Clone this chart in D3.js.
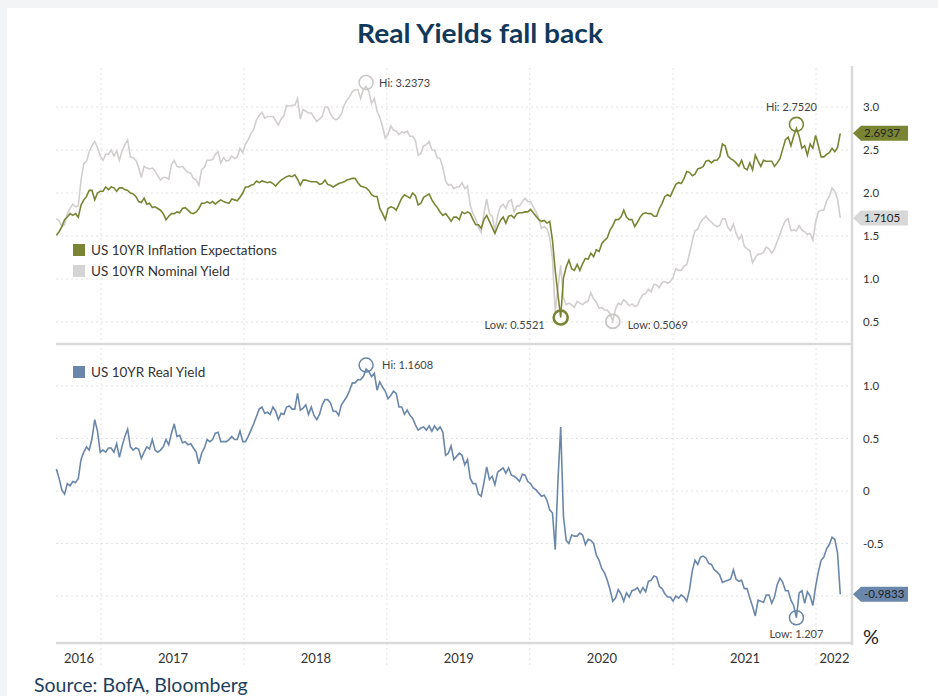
<!DOCTYPE html>
<html>
<head>
<meta charset="utf-8">
<script src="https://cdn.jsdelivr.net/npm/d3@7"></script>
<style>
  body { margin: 0; background: #f3f4f6; }
  svg { display: block; font-family: Lato, "Open Sans", sans-serif; }
</style>
</head>
<body>
<svg width="938" height="696"></svg>
<script>
// weekly observations, first one on startDate
var startDate = "2016-09-09";

var inflationExp = [
  1.51,1.55,1.61,1.69,1.72,1.76,1.74,1.76,1.72,1.86,
  1.92,1.96,2.03,2.03,1.92,2.00,2.02,2.02,2.07,2.04,
  2.07,2.06,2.02,2.06,2.06,2.04,2.03,2.00,1.99,1.96,
  1.90,1.89,1.94,1.87,1.88,1.83,1.84,1.82,1.80,1.76,
  1.69,1.73,1.76,1.76,1.78,1.77,1.82,1.83,1.80,1.77,
  1.76,1.78,1.82,1.88,1.88,1.90,1.88,1.90,1.87,1.90,
  1.92,1.90,1.89,1.88,1.93,1.92,1.91,1.95,2.00,2.07,
  2.07,2.09,2.10,2.14,2.12,2.14,2.13,2.12,2.13,2.11,
  2.08,2.12,2.15,2.17,2.19,2.20,2.19,2.21,2.16,2.09,
  2.15,2.15,2.14,2.13,2.13,2.13,2.10,2.11,2.15,2.10,
  2.09,2.07,2.09,2.11,2.12,2.13,2.15,2.16,2.17,2.17,
  2.12,2.08,2.07,2.06,2.03,1.98,1.96,1.96,1.82,1.76,
  1.69,1.82,1.84,1.83,1.80,1.87,1.94,1.98,1.96,1.94,
  2.00,1.97,1.86,1.88,1.95,1.97,1.99,1.92,1.87,1.83,
  1.78,1.74,1.76,1.72,1.67,1.72,1.72,1.69,1.78,1.76,
  1.78,1.76,1.69,1.63,1.63,1.59,1.69,1.74,1.67,1.60,
  1.53,1.61,1.68,1.72,1.65,1.73,1.74,1.71,1.76,1.77,
  1.77,1.78,1.78,1.81,1.77,1.73,1.69,1.67,1.68,1.65,
  1.67,1.45,1.10,0.82,0.5521,1.01,1.14,1.22,1.12,1.10,
  1.17,1.10,1.18,1.24,1.23,1.30,1.26,1.34,1.32,1.41,
  1.45,1.48,1.57,1.62,1.69,1.69,1.72,1.80,1.72,1.69,
  1.69,1.61,1.66,1.72,1.76,1.77,1.76,1.76,1.73,1.73,
  1.82,1.88,1.96,1.98,1.96,2.03,2.10,2.12,2.11,2.17,
  2.25,2.24,2.20,2.22,2.28,2.29,2.31,2.37,2.38,2.35,
  2.38,2.38,2.42,2.57,2.55,2.43,2.40,2.38,2.35,2.31,
  2.38,2.29,2.27,2.35,2.27,2.44,2.37,2.31,2.38,2.37,
  2.37,2.37,2.31,2.35,2.40,2.51,2.62,2.65,2.55,2.66,
  2.752,2.66,2.52,2.55,2.44,2.57,2.52,2.67,2.55,2.42,
  2.42,2.45,2.47,2.52,2.48,2.53,2.6937
];

var nominalYield = [
  1.70,1.68,1.61,1.63,1.76,1.82,1.87,1.84,1.85,2.15,
  2.34,2.37,2.48,2.55,2.60,2.53,2.43,2.38,2.45,2.45,
  2.50,2.43,2.49,2.38,2.49,2.56,2.62,2.42,2.41,2.38,
  2.30,2.18,2.31,2.29,2.28,2.29,2.26,2.20,2.15,2.18,
  2.18,2.16,2.33,2.38,2.31,2.30,2.31,2.27,2.24,2.23,
  2.17,2.15,2.09,2.27,2.30,2.38,2.38,2.39,2.45,2.48,
  2.35,2.41,2.37,2.38,2.43,2.40,2.42,2.52,2.47,2.57,
  2.62,2.69,2.74,2.85,2.90,2.94,2.87,2.89,2.89,2.89,
  2.84,2.79,2.86,2.90,3.02,3.01,3.02,3.02,3.10,2.86,
  2.97,2.95,2.93,2.93,2.88,2.83,2.86,2.89,3.00,3.00,
  2.92,2.87,2.85,2.87,2.92,3.02,3.08,3.12,3.18,3.20,
  3.20,3.10,3.21,3.2373,3.18,3.04,3.10,2.95,2.88,2.77,
  2.64,2.68,2.78,2.73,2.72,2.68,2.71,2.70,2.72,2.66,
  2.66,2.61,2.44,2.46,2.55,2.56,2.60,2.50,2.50,2.41,
  2.40,2.30,2.14,2.09,2.10,2.05,2.07,2.07,2.12,2.05,
  2.08,1.86,1.76,1.70,1.60,1.54,1.76,1.93,1.76,1.73,
  1.56,1.74,1.84,1.87,1.82,1.90,1.92,1.78,1.85,1.85,
  1.90,1.94,1.90,1.90,1.84,1.78,1.70,1.59,1.61,1.58,
  1.48,1.24,0.62,0.90,1.16,0.78,0.70,0.72,0.70,0.67,
  0.74,0.72,0.70,0.73,0.74,0.84,0.77,0.73,0.66,0.67,
  0.64,0.64,0.60,0.5069,0.65,0.72,0.70,0.76,0.73,0.69,
  0.71,0.68,0.69,0.77,0.82,0.83,0.88,0.85,0.94,0.93,
  0.90,0.96,0.97,0.95,0.97,1.02,1.12,1.10,1.10,1.15,
  1.17,1.30,1.44,1.56,1.58,1.66,1.70,1.73,1.69,1.66,
  1.63,1.61,1.62,1.70,1.70,1.60,1.56,1.64,1.53,1.46,
  1.51,1.38,1.35,1.33,1.19,1.25,1.29,1.29,1.31,1.37,
  1.35,1.30,1.35,1.44,1.52,1.61,1.68,1.70,1.56,1.57,
  1.56,1.62,1.57,1.55,1.52,1.53,1.45,1.66,1.78,1.80,
  1.80,1.91,1.96,2.06,2.02,1.93,1.7105
];

var realYield = [
  0.21,0.12,0.01,-0.03,0.07,0.05,0.09,0.08,0.12,0.30,
  0.37,0.42,0.39,0.50,0.68,0.57,0.37,0.39,0.37,0.41,
  0.41,0.37,0.45,0.32,0.43,0.52,0.59,0.42,0.39,0.41,
  0.40,0.31,0.37,0.42,0.40,0.49,0.39,0.37,0.39,0.42,
  0.49,0.44,0.55,0.64,0.52,0.53,0.46,0.47,0.44,0.45,
  0.41,0.37,0.26,0.36,0.41,0.49,0.47,0.49,0.55,0.56,
  0.47,0.47,0.47,0.49,0.52,0.49,0.49,0.57,0.47,0.47,
  0.52,0.58,0.64,0.71,0.78,0.80,0.74,0.75,0.73,0.80,
  0.76,0.68,0.74,0.73,0.80,0.81,0.78,0.78,0.93,0.77,
  0.79,0.82,0.73,0.80,0.72,0.68,0.73,0.82,0.87,0.87,
  0.84,0.76,0.76,0.72,0.82,0.86,0.90,0.96,1.03,1.03,
  1.06,1.06,1.09,1.1608,1.14,1.09,1.12,0.96,1.04,0.99,
  0.95,0.88,0.91,0.95,0.93,0.80,0.80,0.73,0.77,0.72,
  0.69,0.63,0.58,0.60,0.61,0.58,0.62,0.57,0.62,0.58,
  0.61,0.56,0.34,0.36,0.43,0.30,0.33,0.36,0.34,0.25,
  0.30,0.12,0.07,0.07,-0.03,-0.05,0.08,0.23,0.11,0.14,
  0.06,0.18,0.20,0.22,0.17,0.22,0.15,0.14,0.12,0.09,
  0.16,0.15,0.09,0.07,0.03,0.01,-0.02,-0.05,-0.04,-0.09,
  -0.18,-0.21,-0.56,0.10,0.61,-0.24,-0.47,-0.50,-0.42,-0.43,
  -0.43,-0.40,-0.42,-0.51,-0.46,-0.47,-0.50,-0.61,-0.66,-0.74,
  -0.78,-0.85,-0.94,-1.05,-1.02,-0.94,-0.98,-1.05,-0.97,-1.01,
  -0.95,-0.94,-0.92,-0.97,-0.92,-0.96,-0.86,-0.85,-0.81,-0.82,
  -0.91,-0.93,-0.98,-1.01,-1.01,-1.05,-1.00,-1.02,-0.99,-1.01,
  -1.05,-0.94,-0.76,-0.66,-0.70,-0.63,-0.62,-0.64,-0.69,-0.70,
  -0.75,-0.77,-0.80,-0.87,-0.86,-0.85,-0.84,-0.75,-0.84,-0.86,
  -0.85,-0.93,-0.93,-1.02,-1.10,-1.19,-1.04,-1.05,-1.06,-0.99,
  -0.99,-1.07,-1.01,-0.89,-0.83,-0.87,-0.95,-0.95,-1.04,-1.09,
  -1.207,-0.97,-0.95,-1.07,-0.96,-1.00,-1.09,-0.91,-0.77,-0.66,
  -0.63,-0.55,-0.51,-0.44,-0.46,-0.59,-0.9833
];

var yearLabels = [2016, 2017, 2018, 2019, 2020, 2021, 2022];
var topTicks = [0.5, 1.0, 1.5, 2.0, 2.5, 3.0];
var bottomTicks = [-1.0, -0.5, 0, 0.5, 1.0];

var olive = "#7a8534",
    grey = "#d3cece",
    slate = "#6a87ab",
    navy = "#12395a";

var left = 56, right = 852;
var topPanel = { top: 66, bottom: 344 },
    botPanel = { top: 344, bottom: 643 };

var svg = d3.select("svg");

svg.append("rect")
    .attr("x", 7).attr("y", 8)
    .attr("width", 931).attr("height", 688)
    .attr("fill", "#fff");

var t0 = d3.timeParse("%Y-%m-%d")(startDate);
var dates = realYield.map(function (d, i) { return d3.timeDay.offset(t0, 7 * i); });

var x = d3.scaleTime()
    .domain([new Date(2017, 0, 1), new Date(2022, 0, 1)])
    .range([101, 816]);

var yTop = d3.scaleLinear().domain([0.5, 3.0]).range([322, 107]);
var yBot = d3.scaleLinear().domain([-1, 1]).range([596, 386]);

// grid
var grid = svg.append("g")
    .attr("stroke", "#e2e2e2")
    .attr("stroke-dasharray", "2,3");

grid.selectAll(".vg")
    .data(yearLabels.slice(1))
    .enter().append("line")
    .attr("x1", function (d) { return x(new Date(d, 0, 1)); })
    .attr("x2", function (d) { return x(new Date(d, 0, 1)); })
    .attr("y1", 68).attr("y2", 668);

grid.selectAll(".ht")
    .data(topTicks)
    .enter().append("line")
    .attr("x1", left).attr("x2", right)
    .attr("y1", function (d) { return yTop(d); })
    .attr("y2", function (d) { return yTop(d); });

grid.selectAll(".hb")
    .data(bottomTicks)
    .enter().append("line")
    .attr("x1", left).attr("x2", right)
    .attr("y1", function (d) { return yBot(d); })
    .attr("y2", function (d) { return yBot(d); });

// frame lines
var frame = svg.append("g").attr("stroke", "#dadada").attr("stroke-width", 2.5);
frame.append("line").attr("x1", left).attr("x2", right)
    .attr("y1", topPanel.bottom).attr("y2", topPanel.bottom);
frame.append("line").attr("x1", left).attr("x2", right)
    .attr("y1", botPanel.bottom).attr("y2", botPanel.bottom);
frame.append("line").attr("x1", right).attr("x2", right)
    .attr("y1", topPanel.top).attr("y2", botPanel.bottom + 2);

// lines
function series(values, y) {
    return d3.line()
        .x(function (d, i) { return x(dates[i]); })
        .y(function (d) { return y(d); })(values);
}

svg.append("path")
    .attr("d", series(nominalYield, yTop))
    .attr("fill", "none").attr("stroke", grey).attr("stroke-width", 1.6);

svg.append("path")
    .attr("d", series(inflationExp, yTop))
    .attr("fill", "none").attr("stroke", olive).attr("stroke-width", 1.6);

svg.append("path")
    .attr("d", series(realYield, yBot))
    .attr("fill", "none").attr("stroke", slate).attr("stroke-width", 1.6);

// right axes
function styleAxis(g) {
    g.select(".domain").remove();
    g.selectAll("text")
        .attr("fill", "#333")
        .style("font-family", "Lato, sans-serif")
        .style("font-size", "11.5px");
}

svg.append("g")
    .attr("transform", "translate(" + right + ",0)")
    .call(d3.axisRight(yTop).tickValues(topTicks).tickFormat(d3.format(".1f"))
        .tickSize(0).tickPadding(11))
    .call(styleAxis);

svg.append("g")
    .attr("transform", "translate(" + right + ",0)")
    .call(d3.axisRight(yBot).tickValues([-0.5, 0, 0.5, 1.0])
        .tickFormat(function (d) { return d === 0 ? "0" : d.toFixed(1); })
        .tickSize(0).tickPadding(11))
    .call(styleAxis);

// year labels centred in each year span
var xStart = x.invert(left), xEnd = x.invert(right);
var yearMids = yearLabels.map(function (yr) {
    var a = Math.max(new Date(yr, 0, 1), xStart),
        b = Math.min(new Date(yr + 1, 0, 1), xEnd);
    return new Date((a + b) / 2);
});

svg.append("g")
    .attr("transform", "translate(0,650)")
    .call(d3.axisBottom(x).tickValues(yearMids)
        .tickFormat(function (d, i) { return yearLabels[i]; })
        .tickSize(0).tickPadding(4))
    .call(function (g) {
        g.select(".domain").remove();
        g.selectAll("text").attr("fill", "#333")
            .style("font-family", "Lato, sans-serif")
            .style("font-size", "13px");
    });

// last value tags
function tag(value, y, fill) {
    var cy = y(value);
    svg.append("path")
        .attr("d", "M" + (right + 1) + "," + cy + "L" + (right + 9) + "," + (cy - 7.5) +
            "H908V" + (cy + 7.5) + "H" + (right + 9) + "Z")
        .attr("fill", fill);
    svg.append("text")
        .attr("x", right + 12).attr("y", cy).attr("dy", "0.36em")
        .attr("fill", "#1e1e1e")
        .style("font-size", "11.5px")
        .text(value.toFixed(4));
}
tag(inflationExp[inflationExp.length - 1], yTop, olive);
tag(nominalYield[nominalYield.length - 1], yTop, "#d8d8d8");
tag(realYield[realYield.length - 1], yBot, slate);

// hi / low markers
function marker(values, y, hi, color, width, dx, dy, anchor, label) {
    var i = hi ? d3.maxIndex(values) : d3.minIndex(values);
    var cx = x(dates[i]), cy = y(values[i]) + (hi ? -4 : 0);
    svg.append("circle")
        .attr("cx", cx).attr("cy", cy).attr("r", 7)
        .attr("fill", "none").attr("stroke", color).attr("stroke-width", width);
    svg.append("text")
        .attr("x", cx + dx).attr("y", cy + dy)
        .attr("text-anchor", anchor)
        .attr("fill", "#444")
        .style("font-size", "11px")
        .text(label(values[i]));
}

marker(nominalYield, yTop, true, "#cbc6c6", 1.5, 13, 4, "start",
    function (v) { return "Hi: " + v.toFixed(4); });
marker(inflationExp, yTop, true, olive, 1.6, -5, -13, "middle",
    function (v) { return "Hi: " + v.toFixed(4); });
marker(inflationExp, yTop, false, olive, 2.6, -16, 11, "end",
    function (v) { return "Low: " + v.toFixed(4); });
marker(nominalYield, yTop, false, "#cbc6c6", 1.8, 15, 8, "start",
    function (v) { return "Low: " + v.toFixed(4); });
marker(realYield, yBot, true, slate, 1.5, 16, 4, "start",
    function (v) { return "Hi: " + v.toFixed(4); });
marker(realYield, yBot, false, slate, 1.5, 0, 20, "middle",
    function (v) { return "Low: " + Math.abs(v).toFixed(3); });

// legends
var legendItems = [
    { name: "US 10YR Inflation Expectations", color: olive, y: 244 },
    { name: "US 10YR Nominal Yield", color: "#d4d4d4", y: 265 },
    { name: "US 10YR Real Yield", color: slate, y: 366 }
];
var leg = svg.selectAll(".legend")
    .data(legendItems)
    .enter().append("g");
leg.append("rect")
    .attr("x", 73).attr("y", function (d) { return d.y; })
    .attr("width", 12).attr("height", 12)
    .attr("fill", function (d) { return d.color; });
leg.append("text")
    .attr("x", 91).attr("y", function (d) { return d.y + 11; })
    .attr("fill", "#333")
    .style("font-size", "13.5px")
    .text(function (d) { return d.name; });

svg.append("text")
    .attr("x", 863).attr("y", 644)
    .attr("fill", "#222")
    .style("font-size", "20px")
    .text("%");

// title and source
svg.append("text")
    .attr("x", 480).attr("y", 43)
    .attr("text-anchor", "middle")
    .attr("fill", navy)
    .attr("textLength", 246)
    .attr("lengthAdjust", "spacingAndGlyphs")
    .style("font-size", "26px")
    .style("font-weight", "bold")
    .text("Real Yields fall back");

svg.append("text")
    .attr("x", 34).attr("y", 692)
    .attr("fill", "#1d3f5e")
    .style("font-size", "19.5px")
    .text("Source: BofA, Bloomberg");
</script>
</body>
</html>
